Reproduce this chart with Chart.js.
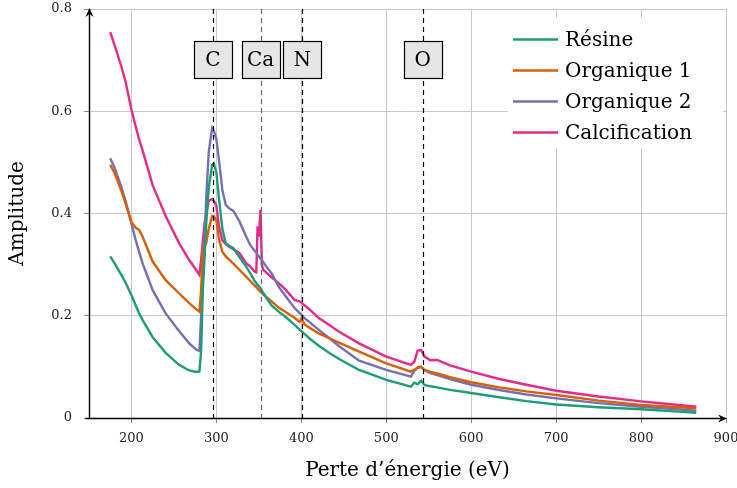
<!DOCTYPE html>
<html>
<head>
<meta charset="utf-8">
<script src="https://cdn.jsdelivr.net/npm/chart.js@4.4.1/dist/chart.umd.min.js"></script>
<style>
  html, body { margin: 0; padding: 0; background: #fff; }
  #wrap { width: 737px; height: 488px; position: relative; }
</style>
</head>
<body>
<div id="wrap"><canvas id="my-chart"></canvas></div>
<script>
// energy axis (eV), shared by all series
var energie = [175,180,188,193,200,205,209,213,225,240,256,268,276,280,282,284,286,288,291,295,
  297,300,303,307,311,315,320,327,335,340,345,347,348.5,350,352,353.5,355,358,365,374,
  382,392,398,400,404,410,421,433,445,468,500,529,533,537,541,545,552,560,575,600,
  633,665,700,750,800,835,865];

var resine = [.316,.303,.28,.265,.24,.22,.205,.192,.158,.128,.104,.093,.09,.091,.13,.25,.31,.38,.45,.495,
  .498,.48,.43,.37,.342,.337,.332,.315,.296,.283,.268,.264,.26,.258,.253,.249,.245,.237,.22,.207,
  .197,.182,.173,.17,.164,.155,.141,.127,.115,.094,.0744,.0613,.069,.066,.073,.0646,.062,.06,.055,.049,
  .0405,.033,.0264,.021,.017,.0135,.0104];

var organique1 = [.495,.48,.445,.42,.383,.372,.368,.355,.306,.27,.244,.2245,.213,.208,.25,.33,.335,.342,.37,.395,
  .395,.385,.35,.325,.316,.31,.302,.29,.2765,.268,.259,.256,.253,.25,.247,.245,.242,.238,.228,.215,
  .207,.196,.188,.195,.183,.176,.165,.156,.147,.13,.107,.0906,.094,.099,.1,.094,.09,.087,.08,.07,
  .06,.052,.045,.034,.0254,.022,.019];

var organique2 = [.508,.49,.452,.425,.38,.348,.325,.303,.25,.205,.17,.146,.134,.131,.2,.28,.34,.43,.52,.567,
  .562,.545,.505,.446,.417,.41,.405,.385,.355,.338,.327,.323,.319,.316,.312,.309,.305,.298,.283,.255,
  .237,.215,.205,.202,.195,.187,.172,.156,.14,.112,.094,.081,.092,.098,.1,.094,.088,.084,.076,.065,
  .0548,.046,.0385,.029,.022,.018,.0143];

var calcification = [.755,.73,.688,.658,.603,.57,.545,.524,.455,.396,.342,.309,.29,.28,.31,.345,.38,.4,.425,.428,
  .425,.415,.375,.348,.34,.335,.33,.323,.303,.296,.286,.285,.375,.355,.407,.3,.29,.286,.275,.263,
  .25,.231,.228,.226,.22,.212,.195,.182,.168,.146,.12,.104,.11,.132,.133,.12,.113,.1135,.103,.0906,
  .0763,.065,.0534,.042,.0325,.027,.022];

var seriesNames = ['Résine', 'Organique 1', 'Organique 2', 'Calcification'];
var seriesColors = ['#1b9e77', '#d95f02', '#7570b3', '#e7298a'];

// edges marked with dashed lines
var edgeLabels = ['C', 'Ca', 'N', 'O'];
var edgeEnergies = [296, 352, 401, 543];
var edgeColors = ['#000', '#666', '#000', '#000'];

var xTicks = [200, 300, 400, 500, 600, 700, 800, 900];

var FONT = "'DejaVu Serif', serif";

function toPoints(values) {
  var pts = [];
  for (var i = 0; i < energie.length; i++) {
    pts.push({x: energie[i], y: values[i]});
  }
  return pts;
}

var allValues = [resine, organique1, organique2, calcification];
var datasets = [];
for (var s = 0; s < allValues.length; s++) {
  datasets.push({
    label: seriesNames[s],
    data: toPoints(allValues[s]),
    borderColor: seriesColors[s],
    backgroundColor: seriesColors[s],
    borderWidth: 2.4,
    pointRadius: 0,
    tension: 0,
    fill: false
  });
}

// dashed edge lines, labelled boxes, axes with arrows, and legend
var decorations = {
  id: 'decorations',
  afterDatasetsDraw: function(chart) {
    var ctx = chart.ctx;
    var xs = chart.scales.x;
    var area = chart.chartArea;
    ctx.save();

    // edge lines
    ctx.lineWidth = 1.2;
    ctx.setLineDash([5, 4]);
    for (var i = 0; i < edgeEnergies.length; i++) {
      var px = Math.round(xs.getPixelForValue(edgeEnergies[i])) + 0.5;
      ctx.strokeStyle = edgeColors[i];
      ctx.beginPath();
      ctx.moveTo(px, area.top);
      ctx.lineTo(px, area.bottom);
      ctx.stroke();
    }
    ctx.setLineDash([]);

    // label boxes
    ctx.font = '20px ' + FONT;
    ctx.textAlign = 'center';
    ctx.textBaseline = 'middle';
    for (var j = 0; j < edgeEnergies.length; j++) {
      var cx = xs.getPixelForValue(edgeEnergies[j]);
      var bx = Math.round(cx - 19) + 0.5, by = 41.5;
      ctx.fillStyle = '#e6e6e6';
      ctx.fillRect(bx, by, 38, 37);
      ctx.strokeStyle = '#000';
      ctx.lineWidth = 1.2;
      ctx.strokeRect(bx, by, 38, 37);
      ctx.fillStyle = '#000';
      ctx.fillText(edgeLabels[j], cx, by + 19);
    }

    // axes
    ctx.strokeStyle = '#000';
    ctx.fillStyle = '#000';
    ctx.lineWidth = 1.4;
    var x0 = Math.round(area.left) + 0.5, y0 = Math.round(area.bottom) + 0.5;
    ctx.beginPath();
    ctx.moveTo(x0, y0);
    ctx.lineTo(x0, area.top);
    ctx.moveTo(x0 - 4, y0);
    ctx.lineTo(area.right - 2, y0);
    ctx.stroke();
    // arrow heads
    ctx.beginPath();
    ctx.moveTo(x0, area.top - 1);
    ctx.lineTo(x0 - 4, area.top + 8);
    ctx.lineTo(x0, area.top + 5);
    ctx.lineTo(x0 + 4, area.top + 8);
    ctx.closePath();
    ctx.fill();
    ctx.beginPath();
    ctx.moveTo(area.right + 1, y0);
    ctx.lineTo(area.right - 8, y0 - 4);
    ctx.lineTo(area.right - 5, y0);
    ctx.lineTo(area.right - 8, y0 + 4);
    ctx.closePath();
    ctx.fill();

    // legend
    ctx.fillStyle = '#fff';
    ctx.fillRect(508, 18, 215, 130);
    ctx.font = '20px ' + FONT;
    ctx.textAlign = 'left';
    ctx.textBaseline = 'middle';
    for (var k = 0; k < seriesNames.length; k++) {
      var ly = 39.5 + k * 31;
      ctx.strokeStyle = seriesColors[k];
      ctx.lineWidth = 2.4;
      ctx.beginPath();
      ctx.moveTo(513, ly);
      ctx.lineTo(558, ly);
      ctx.stroke();
      ctx.fillStyle = '#000';
      ctx.fillText(seriesNames[k], 565, ly + 1);
    }
    ctx.restore();
  }
};

var ctx = document.getElementById('my-chart');
var chart = new Chart(ctx, {
  type: 'line',
  data: { datasets: datasets },
  plugins: [decorations],
  options: {
    responsive: true,
    maintainAspectRatio: false,
    animation: false,
    layout: { padding: { top: 9, right: 11, left: 0, bottom: 0 } },
    plugins: { legend: { display: false }, tooltip: { enabled: false } },
    scales: {
      x: {
        type: 'linear',
        min: 150,
        max: 900,
        afterBuildTicks: function(scale) {
          scale.ticks = xTicks.map(function(v) { return {value: v}; });
        },
        afterFit: function(scale) {
          scale.height = 70;
          scale.paddingLeft = 0;
          scale.paddingRight = 0;
        },
        ticks: {
          font: { family: FONT, size: 13 },
          color: '#222',
          padding: 8,
          maxRotation: 0,
          autoSkip: false
        },
        grid: { color: '#c8c8c8', lineWidth: 1, tickLength: 5, tickColor: '#888' },
        border: { display: false },
        title: {
          display: true,
          text: 'Perte d’énergie (eV)',
          font: { family: FONT, size: 20 },
          color: '#000',
          padding: { top: 0, bottom: 5 }
        }
      },
      y: {
        min: 0,
        max: 0.8,
        afterFit: function(scale) {
          scale.width = 89;
          scale.paddingTop = 0;
          scale.paddingBottom = 0;
        },
        ticks: {
          stepSize: 0.2,
          font: { family: FONT, size: 13 },
          color: '#222',
          padding: 12,
          callback: function(v) { return v === 0 ? '0' : Number(v.toFixed(1)).toString(); }
        },
        grid: { color: '#c8c8c8', lineWidth: 1, tickLength: 5, tickColor: '#888' },
        border: { display: false },
        title: {
          display: true,
          text: 'Amplitude',
          font: { family: FONT, size: 20 },
          color: '#000',
          padding: { top: 6, bottom: 0 }
        }
      }
    }
  }
});
</script>
</body>
</html>
